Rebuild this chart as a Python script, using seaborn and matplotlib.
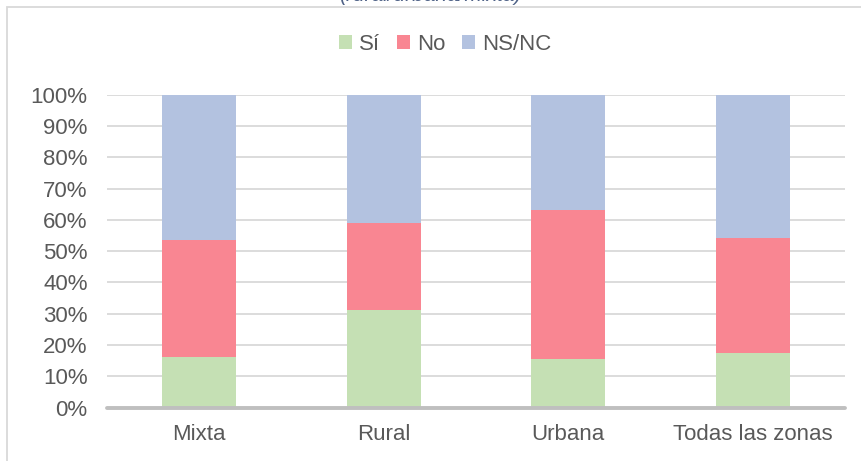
import numpy as np
import pandas as pd
import seaborn as sns
import matplotlib
matplotlib.use("Agg")
import matplotlib.pyplot as plt
from matplotlib.patches import Rectangle, Patch

# datos (% por zona)
zonas = ['Mixta', 'Rural', 'Urbana', 'Todas las zonas']
si = [16.3, 31.3, 15.6, 17.6]
no = [37.4, 27.8, 47.7, 36.7]
nsnc = [46.3, 40.9, 36.7, 45.7]
series = ['Sí', 'No', 'NS/NC']
colores = ['#C5E0B4', '#F98692', '#B3C2E0']
yticks = [0, 10, 20, 30, 40, 50, 60, 70, 80, 90, 100]

sns.set_theme(style='white')
plt.rcParams['font.family'] = ['Liberation Sans', 'DejaVu Sans']

df = pd.DataFrame({'zona': zonas, 'Sí': si, 'No': no, 'NS/NC': nsnc})
# acumulados para apilar (se dibuja del total hacia abajo)
df['c_si'] = df['Sí']
df['c_no'] = df['Sí'] + df['No']
df['c_ns'] = df['Sí'] + df['No'] + df['NS/NC']

W, H = 861, 461
fig = plt.figure(figsize=(W / 100, H / 100), dpi=100)
ax = fig.add_axes([107 / W, (H - 407.7) / H, 738 / W, 313 / H])

# marco gris del gráfico
fig.add_artist(Rectangle((7 / W, -0.1), 1.2, 1 - 7 / H + 0.1, transform=fig.transFigure,
                         fill=False, edgecolor='#D9D9D9', linewidth=1.3))

# cuadrícula
for t in yticks[1:]:
    ax.axhline(t, color='#D9D9D9', linewidth=1.3, zorder=0)

for col, c in zip(['c_ns', 'c_no', 'c_si'], colores[::-1]):
    sns.barplot(data=df, x='zona', y=col, color=c, width=0.4, saturation=1,
                linewidth=0, ax=ax, zorder=2)

ax.axhline(0, color='#BFBFBF', linewidth=2.8, zorder=3, clip_on=False)
ax.set_ylim(0, 100)
ax.set_xlim(-0.5, 3.5)
ax.set_yticks(yticks)
ax.set_yticklabels([f'{t}%' for t in yticks])
ax.set_xlabel('')
ax.set_ylabel('')
ax.tick_params(axis='y', length=0, pad=14, labelsize=16, labelcolor='#595959')
ax.tick_params(axis='x', length=0, pad=12, labelsize=16, labelcolor='#595959')
sns.despine(ax=ax, left=True, bottom=True)

handles = [Patch(facecolor=c, edgecolor='none') for c in colores]
fig.legend(handles, series, loc='center', bbox_to_anchor=(0.517, 1 - 44 / H), ncol=3,
           frameon=False, fontsize=16, handlelength=0.6, handleheight=0.6,
           handletextpad=0.3, columnspacing=0.75, labelcolor='#595959')

# título cortado arriba
fig.text(0.5, 1 - 5 / H, '(rural/urbana/mixta)', ha='center', va='bottom',
         fontsize=15, style='italic', color='#4F6287')

fig.savefig('out.png', dpi=100)
